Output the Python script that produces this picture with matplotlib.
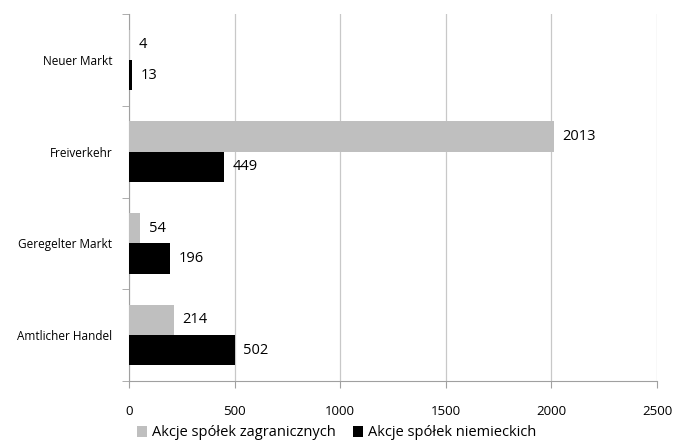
import matplotlib
matplotlib.use("Agg")
import matplotlib.pyplot as plt
import numpy as np

plt.rcParams['font.family'] = ['Open Sans', 'DejaVu Sans']

categories = ["Amtlicher Handel", "Geregelter Markt", "Freiverkehr", "Neuer Markt"]
foreign = [214, 54, 2013, 4]
german = [502, 196, 449, 13]
series_names = ["Akcje spółek zagranicznych", "Akcje spółek niemieckich"]
xticks = [0, 500, 1000, 1500, 2000, 2500]

fig = plt.figure(figsize=(6.73, 4.41), dpi=100)
ax = fig.add_axes([129/673, 1 - 381/441, (657 - 129)/673, (381 - 14)/441])

y = np.arange(len(categories))
h = 0.33
ax.barh(y + h/2, foreign, height=h, color="#bfbfbf", label=series_names[0], zorder=3)
ax.barh(y - h/2, german, height=h, color="#000000", label=series_names[1], zorder=3)

for yi, v in zip(y, foreign):
    ax.text(v + 40, yi + h/2, str(v), va="center", ha="left", fontsize=10.5)
for yi, v in zip(y, german):
    ax.text(v + 40, yi - h/2, str(v), va="center", ha="left", fontsize=10.5)

ax.set_xlim(0, 2500)
ax.set_ylim(-0.5, len(categories) - 0.5)
ax.set_xticks(xticks)
ax.set_xticklabels([str(t) for t in xticks], fontsize=9.5)
ax.set_yticks(y)
ax.set_yticklabels(categories, fontsize=8.5)
ax.set_yticks(np.arange(-0.5, len(categories)), minor=True)
ax.tick_params(axis="y", which="major", length=0, pad=12)
ax.tick_params(axis="y", which="minor", length=5, color="#a0a0a0", direction="out")
ax.tick_params(axis="x", length=5, color="#a0a0a0", pad=12)

ax.grid(axis="x", color="#c8c8c8", linewidth=0.9, zorder=0)
for s in ["top", "right"]:
    ax.spines[s].set_visible(False)
for s in ["left", "bottom"]:
    ax.spines[s].set_color("#a0a0a0")

handles, labels = ax.get_legend_handles_labels()
fig.legend(handles, labels, loc="center", bbox_to_anchor=(0.5, 1 - 433/441), ncol=2,
           frameon=False, fontsize=10.5, handlelength=0.7, handleheight=0.7,
           handletextpad=0.3, columnspacing=1.2, borderpad=0)

fig.savefig("out.png", dpi=100)
